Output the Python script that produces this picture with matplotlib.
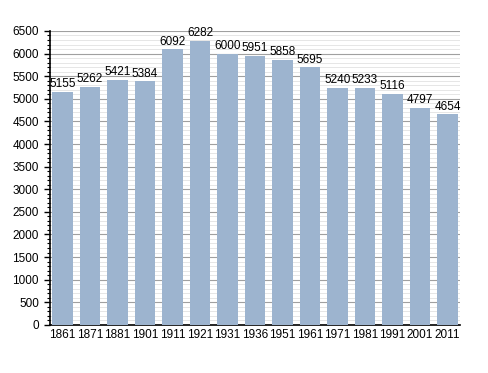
import matplotlib
matplotlib.use("Agg")
import matplotlib.pyplot as plt
from matplotlib.ticker import MultipleLocator

years = ["1861", "1871", "1881", "1901", "1911", "1921", "1931", "1936",
         "1951", "1961", "1971", "1981", "1991", "2001", "2011"]
population = [5155, 5262, 5421, 5384, 6092, 6282, 6000, 5951,
              5858, 5695, 5240, 5233, 5116, 4797, 4654]

plt.rcParams['font.family'] = ['Liberation Sans', 'DejaVu Sans']

fig = plt.figure(figsize=(4.88, 3.73), dpi=100)
ax = fig.add_axes([0.1025, 0.129, 0.84, 0.788])

x = range(len(years))
ax.bar(x, population, width=0.75, color='#9db4cf', zorder=3)
for i, v in zip(x, population):
    ax.text(i, v + 40, str(v), ha='center', va='bottom', fontsize=8.5, zorder=4)

ax.set_xlim(-0.45, 14.45)
ax.set_ylim(0, 6500)
ax.set_xticks(list(x))
ax.set_xticklabels(years, fontsize=8.5)
ax.tick_params(axis='x', length=0, pad=3)
ax.yaxis.set_major_locator(MultipleLocator(500))
ax.yaxis.set_minor_locator(MultipleLocator(100))
ax.tick_params(axis='y', which='major', labelsize=8.5, length=4, direction='out', width=1, pad=4)
ax.tick_params(axis='y', which='minor', length=2, direction='out', width=0.8)
ax.grid(axis='y', which='major', color='#a0a0a0', linewidth=0.8, zorder=1)
ax.grid(axis='y', which='minor', color='#e2e2e2', linewidth=0.6, zorder=0)

for s in ['top', 'right']:
    ax.spines[s].set_visible(False)
ax.spines['left'].set_linewidth(1.2)
ax.spines['bottom'].set_linewidth(1.2)

fig.savefig("out.png", dpi=100)
